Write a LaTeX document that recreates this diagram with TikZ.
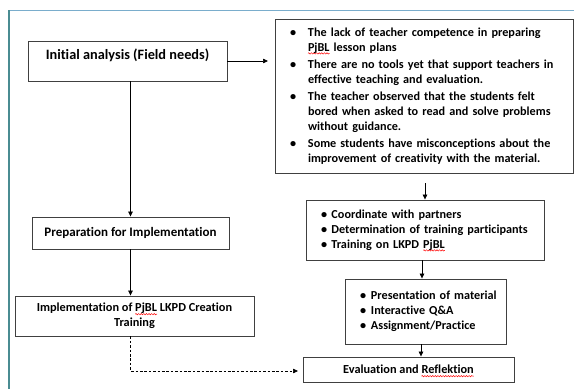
\documentclass[tikz,border=0pt]{standalone}
\usepackage{fontspec}
\setmainfont{Carlito}[Ligatures={NoCommon}]
\usetikzlibrary{arrows.meta,decorations.pathmorphing}

\definecolor{frametop}{HTML}{7AADCC}
\definecolor{frameleft}{HTML}{4A8C92}
\definecolor{boxline}{HTML}{404040}

% red spell-check squiggle under a word
\newcommand\squig[1]{\setbox0\hbox{#1}\rlap{\tikz[overlay,baseline=0pt]\draw[red,line width=0.45pt,decorate,decoration={snake,amplitude=0.7pt,segment length=2.6pt}] (0pt,-2.4pt) -- (\wd0,-2.4pt);}\box0\relax}
\newcommand\bul[1]{\makebox[#1][l]{\textbullet}}

\tikzset{
  stagebox/.style={draw=boxline, line width=0.9pt, inner sep=0pt, align=center,
    font=\bfseries\fontsize{12.3}{15}\selectfont},
  listbox/.style={draw=boxline, line width=0.9pt, inner ysep=0pt, align=left,
    font=\bfseries\fontsize{12.2}{15}\selectfont,
    execute at begin node={\setlength\parindent{0pt}}},
  flow/.style={-{Triangle[length=5pt,width=4.5pt]}, line width=0.7pt, black},
  hint/.style={flow, dash pattern=on 2.6pt off 1.8pt, line width=0.6pt}
}

\begin{document}
\begin{tikzpicture}[x=1pt,y=-1pt]
\useasboundingbox (0,0) rectangle (574,389);

% page frame
\draw[frametop, line width=1.1pt] (9,10.5) -- (574,10.5);
\draw[frameleft, line width=1.1pt] (9,10) -- (9,389);

% left column
\node[stagebox, minimum width=199pt, minimum height=40pt, text height=10pt, text depth=14pt,
      font=\bfseries\fontsize{14.3}{16}\selectfont] (init) at (127.5,61) {Initial analysis (Field needs)};
\node[stagebox, minimum width=197pt, minimum height=32pt,
      font=\bfseries\fontsize{13}{15}\selectfont] (prep) at (130.5,233) {Preparation for Implementation};
\node[stagebox, minimum width=239pt, minimum height=40pt] (impl) at (134.5,316)
  {Implementation of \squig{PjBL} LKPD Creation\\Training};

% right column
\node[listbox, inner xsep=15pt, text width=268pt, minimum height=154pt] (needs) at (424,96)
  {\begin{tabular}{@{}l@{}l@{}}
   \bul{18pt} & The lack of teacher competence in preparing\\
              & \squig{PjBL} lesson plans\\[2pt]
   \bul{18pt} & There are no tools yet that support teachers in\\
              & effective teaching and evaluation.\\[2pt]
   \bul{18pt} & The teacher observed that the students felt\\
              & bored when asked to read and solve problems\\
              & without guidance.\\[2pt]
   \bul{18pt} & Some students have misconceptions about the\\
              & improvement of creativity with the material.
   \end{tabular}};
\node[listbox, inner xsep=15pt, text width=208pt, minimum height=60pt] (coord) at (425,230)
  {\begin{tabular}{@{}l@{}l@{}}
   \bul{10.5pt} & Coordinate with partners\\
   \bul{10.5pt} & Determination of training participants\\
   \bul{10.5pt} & Training on LKPD \squig{PjBL}
   \end{tabular}};
\node[listbox, inner xsep=15pt, text width=131pt, minimum height=65pt] (pres) at (425.5,311.5)
  {\begin{tabular}{@{}l@{}l@{}}
   \bul{11pt} & Presentation of material\\
   \bul{11pt} & Interactive Q\&A\\
   \bul{11pt} & Assignment/Practice
   \end{tabular}};
\node[stagebox, minimum width=211pt, minimum height=25pt] (eval) at (408.5,369.5)
  {Evaluation and \squig{Reflektion}};

% free arrow ends
\coordinate (toneeds) at (268,61);
\coordinate (fromneeds) at (425,183);
\coordinate (toeval) at (298,371);

% connectors
\draw[flow] (init.east) -- (toneeds);
\draw[flow] (prep.north |- init.south) -- (prep.north);
\draw[flow] (prep.south) -- (prep.south |- impl.north);
\draw[flow] (fromneeds) -- (coord.north);
\draw[flow] ([xshift=-3pt]coord.south) -- ([xshift=-3pt]coord.south |- pres.north);
\draw[flow] ([xshift=-4.5pt]pres.south) -- ([xshift=-4.5pt]pres.south |- eval.north);
\draw[hint] (prep.south |- impl.south) |- (toeval);
\end{tikzpicture}
\end{document}
